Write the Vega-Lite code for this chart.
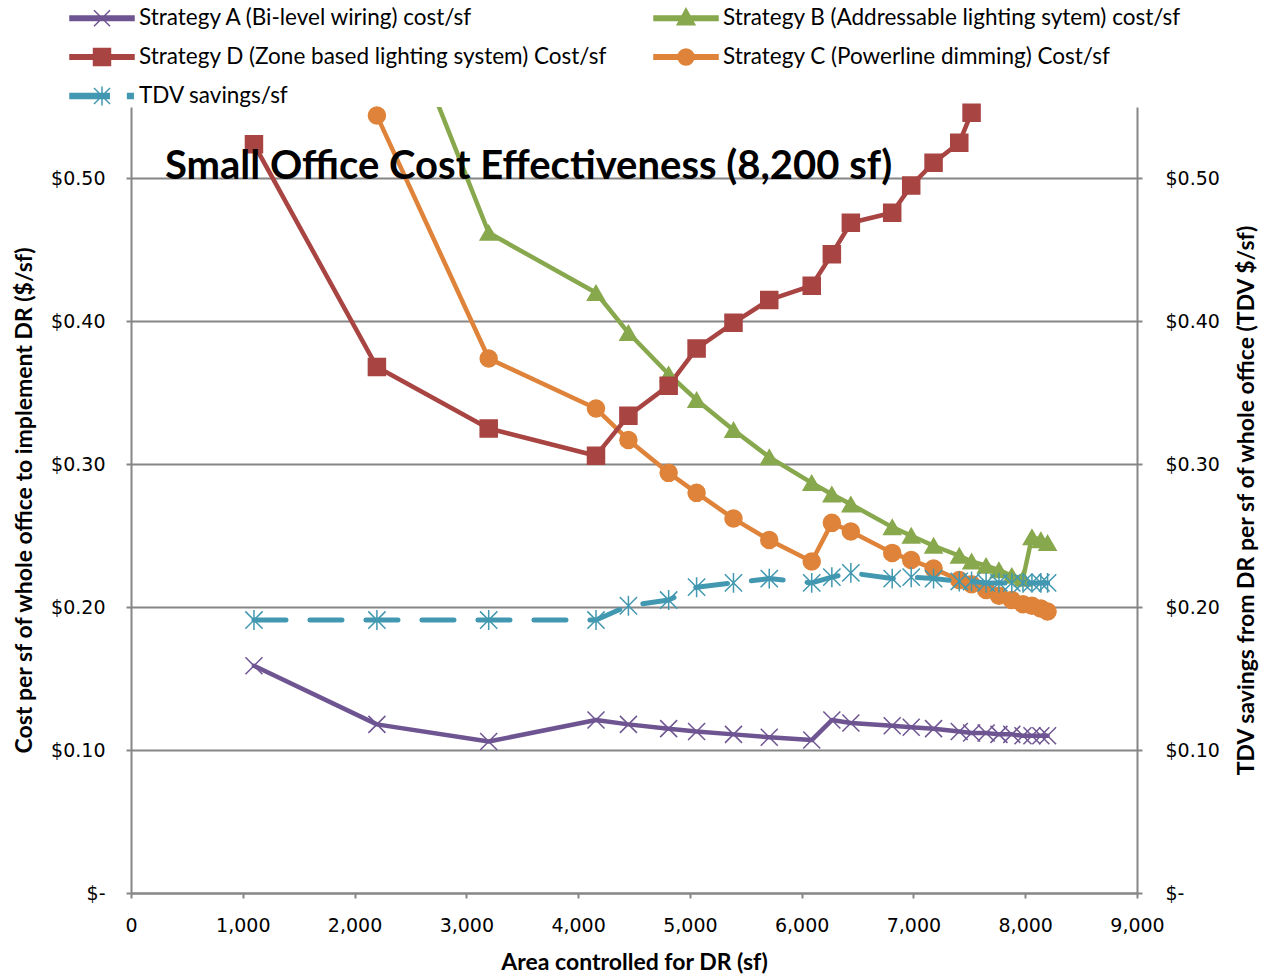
{
  "$schema": "https://vega.github.io/schema/vega-lite/v6.json",
  "width": 1006,
  "height": 786,
  "autosize": {"type": "none"},
  "padding": {"left": 131, "top": 107, "right": 130, "bottom": 83},
  "background": "white",
  "config": {"view": {"stroke": null}, "font": "Lato"},
  "title": {
    "text": "Small Office Cost Effectiveness (8,200 sf)",
    "anchor": "start",
    "frame": "group",
    "orient": "top",
    "offset": 0,
    "baseline": "alphabetic",
    "dx": 34,
    "dy": 218,
    "font": "Lato",
    "fontSize": 40,
    "fontWeight": "bold",
    "color": "#000000"
  },
  "datasets": {
    "cost": [
      {"series": "Strategy A (Bi-level wiring) cost/sf", "key": "A", "area": 1100, "value": 0.159},
      {"series": "Strategy A (Bi-level wiring) cost/sf", "key": "A", "area": 2200, "value": 0.118},
      {"series": "Strategy A (Bi-level wiring) cost/sf", "key": "A", "area": 3200, "value": 0.106},
      {"series": "Strategy A (Bi-level wiring) cost/sf", "key": "A", "area": 4160, "value": 0.121},
      {"series": "Strategy A (Bi-level wiring) cost/sf", "key": "A", "area": 4450, "value": 0.118},
      {"series": "Strategy A (Bi-level wiring) cost/sf", "key": "A", "area": 4810, "value": 0.115},
      {"series": "Strategy A (Bi-level wiring) cost/sf", "key": "A", "area": 5060, "value": 0.113},
      {"series": "Strategy A (Bi-level wiring) cost/sf", "key": "A", "area": 5390, "value": 0.111},
      {"series": "Strategy A (Bi-level wiring) cost/sf", "key": "A", "area": 5710, "value": 0.109},
      {"series": "Strategy A (Bi-level wiring) cost/sf", "key": "A", "area": 6090, "value": 0.107},
      {"series": "Strategy A (Bi-level wiring) cost/sf", "key": "A", "area": 6270, "value": 0.121},
      {"series": "Strategy A (Bi-level wiring) cost/sf", "key": "A", "area": 6440, "value": 0.119},
      {"series": "Strategy A (Bi-level wiring) cost/sf", "key": "A", "area": 6810, "value": 0.117},
      {"series": "Strategy A (Bi-level wiring) cost/sf", "key": "A", "area": 6980, "value": 0.116},
      {"series": "Strategy A (Bi-level wiring) cost/sf", "key": "A", "area": 7180, "value": 0.115},
      {"series": "Strategy A (Bi-level wiring) cost/sf", "key": "A", "area": 7410, "value": 0.113},
      {"series": "Strategy A (Bi-level wiring) cost/sf", "key": "A", "area": 7520, "value": 0.112},
      {"series": "Strategy A (Bi-level wiring) cost/sf", "key": "A", "area": 7650, "value": 0.112},
      {"series": "Strategy A (Bi-level wiring) cost/sf", "key": "A", "area": 7765, "value": 0.111},
      {"series": "Strategy A (Bi-level wiring) cost/sf", "key": "A", "area": 7880, "value": 0.111},
      {"series": "Strategy A (Bi-level wiring) cost/sf", "key": "A", "area": 7980, "value": 0.110},
      {"series": "Strategy A (Bi-level wiring) cost/sf", "key": "A", "area": 8060, "value": 0.110},
      {"series": "Strategy A (Bi-level wiring) cost/sf", "key": "A", "area": 8140, "value": 0.110},
      {"series": "Strategy A (Bi-level wiring) cost/sf", "key": "A", "area": 8200, "value": 0.110},
      {"series": "Strategy B (Addressable lighting sytem) cost/sf", "key": "B", "area": 2200, "value": 0.66},
      {"series": "Strategy B (Addressable lighting sytem) cost/sf", "key": "B", "area": 3200, "value": 0.462},
      {"series": "Strategy B (Addressable lighting sytem) cost/sf", "key": "B", "area": 4160, "value": 0.420},
      {"series": "Strategy B (Addressable lighting sytem) cost/sf", "key": "B", "area": 4450, "value": 0.392},
      {"series": "Strategy B (Addressable lighting sytem) cost/sf", "key": "B", "area": 4810, "value": 0.363},
      {"series": "Strategy B (Addressable lighting sytem) cost/sf", "key": "B", "area": 5060, "value": 0.345},
      {"series": "Strategy B (Addressable lighting sytem) cost/sf", "key": "B", "area": 5390, "value": 0.324},
      {"series": "Strategy B (Addressable lighting sytem) cost/sf", "key": "B", "area": 5710, "value": 0.305},
      {"series": "Strategy B (Addressable lighting sytem) cost/sf", "key": "B", "area": 6090, "value": 0.287},
      {"series": "Strategy B (Addressable lighting sytem) cost/sf", "key": "B", "area": 6270, "value": 0.279},
      {"series": "Strategy B (Addressable lighting sytem) cost/sf", "key": "B", "area": 6440, "value": 0.272},
      {"series": "Strategy B (Addressable lighting sytem) cost/sf", "key": "B", "area": 6810, "value": 0.256},
      {"series": "Strategy B (Addressable lighting sytem) cost/sf", "key": "B", "area": 6980, "value": 0.250},
      {"series": "Strategy B (Addressable lighting sytem) cost/sf", "key": "B", "area": 7180, "value": 0.243},
      {"series": "Strategy B (Addressable lighting sytem) cost/sf", "key": "B", "area": 7410, "value": 0.236},
      {"series": "Strategy B (Addressable lighting sytem) cost/sf", "key": "B", "area": 7520, "value": 0.232},
      {"series": "Strategy B (Addressable lighting sytem) cost/sf", "key": "B", "area": 7650, "value": 0.229},
      {"series": "Strategy B (Addressable lighting sytem) cost/sf", "key": "B", "area": 7765, "value": 0.226},
      {"series": "Strategy B (Addressable lighting sytem) cost/sf", "key": "B", "area": 7880, "value": 0.222},
      {"series": "Strategy B (Addressable lighting sytem) cost/sf", "key": "B", "area": 7980, "value": 0.220},
      {"series": "Strategy B (Addressable lighting sytem) cost/sf", "key": "B", "area": 8060, "value": 0.249},
      {"series": "Strategy B (Addressable lighting sytem) cost/sf", "key": "B", "area": 8140, "value": 0.247},
      {"series": "Strategy B (Addressable lighting sytem) cost/sf", "key": "B", "area": 8200, "value": 0.245},
      {"series": "Strategy C (Powerline dimming) Cost/sf", "key": "C", "area": 2200, "value": 0.544},
      {"series": "Strategy C (Powerline dimming) Cost/sf", "key": "C", "area": 3200, "value": 0.374},
      {"series": "Strategy C (Powerline dimming) Cost/sf", "key": "C", "area": 4160, "value": 0.339},
      {"series": "Strategy C (Powerline dimming) Cost/sf", "key": "C", "area": 4450, "value": 0.317},
      {"series": "Strategy C (Powerline dimming) Cost/sf", "key": "C", "area": 4810, "value": 0.294},
      {"series": "Strategy C (Powerline dimming) Cost/sf", "key": "C", "area": 5060, "value": 0.280},
      {"series": "Strategy C (Powerline dimming) Cost/sf", "key": "C", "area": 5390, "value": 0.262},
      {"series": "Strategy C (Powerline dimming) Cost/sf", "key": "C", "area": 5710, "value": 0.247},
      {"series": "Strategy C (Powerline dimming) Cost/sf", "key": "C", "area": 6090, "value": 0.232},
      {"series": "Strategy C (Powerline dimming) Cost/sf", "key": "C", "area": 6270, "value": 0.259},
      {"series": "Strategy C (Powerline dimming) Cost/sf", "key": "C", "area": 6440, "value": 0.253},
      {"series": "Strategy C (Powerline dimming) Cost/sf", "key": "C", "area": 6810, "value": 0.238},
      {"series": "Strategy C (Powerline dimming) Cost/sf", "key": "C", "area": 6980, "value": 0.233},
      {"series": "Strategy C (Powerline dimming) Cost/sf", "key": "C", "area": 7180, "value": 0.227},
      {"series": "Strategy C (Powerline dimming) Cost/sf", "key": "C", "area": 7410, "value": 0.219},
      {"series": "Strategy C (Powerline dimming) Cost/sf", "key": "C", "area": 7520, "value": 0.216},
      {"series": "Strategy C (Powerline dimming) Cost/sf", "key": "C", "area": 7650, "value": 0.212},
      {"series": "Strategy C (Powerline dimming) Cost/sf", "key": "C", "area": 7765, "value": 0.208},
      {"series": "Strategy C (Powerline dimming) Cost/sf", "key": "C", "area": 7880, "value": 0.205},
      {"series": "Strategy C (Powerline dimming) Cost/sf", "key": "C", "area": 7980, "value": 0.202},
      {"series": "Strategy C (Powerline dimming) Cost/sf", "key": "C", "area": 8060, "value": 0.201},
      {"series": "Strategy C (Powerline dimming) Cost/sf", "key": "C", "area": 8140, "value": 0.199},
      {"series": "Strategy C (Powerline dimming) Cost/sf", "key": "C", "area": 8200, "value": 0.197},
      {"series": "Strategy D (Zone based lighting system) Cost/sf", "key": "D", "area": 1100, "value": 0.524},
      {"series": "Strategy D (Zone based lighting system) Cost/sf", "key": "D", "area": 2200, "value": 0.368},
      {"series": "Strategy D (Zone based lighting system) Cost/sf", "key": "D", "area": 3200, "value": 0.325},
      {"series": "Strategy D (Zone based lighting system) Cost/sf", "key": "D", "area": 4160, "value": 0.306},
      {"series": "Strategy D (Zone based lighting system) Cost/sf", "key": "D", "area": 4450, "value": 0.334},
      {"series": "Strategy D (Zone based lighting system) Cost/sf", "key": "D", "area": 4810, "value": 0.355},
      {"series": "Strategy D (Zone based lighting system) Cost/sf", "key": "D", "area": 5060, "value": 0.381},
      {"series": "Strategy D (Zone based lighting system) Cost/sf", "key": "D", "area": 5390, "value": 0.399},
      {"series": "Strategy D (Zone based lighting system) Cost/sf", "key": "D", "area": 5710, "value": 0.415},
      {"series": "Strategy D (Zone based lighting system) Cost/sf", "key": "D", "area": 6090, "value": 0.425},
      {"series": "Strategy D (Zone based lighting system) Cost/sf", "key": "D", "area": 6270, "value": 0.447},
      {"series": "Strategy D (Zone based lighting system) Cost/sf", "key": "D", "area": 6440, "value": 0.469},
      {"series": "Strategy D (Zone based lighting system) Cost/sf", "key": "D", "area": 6810, "value": 0.476},
      {"series": "Strategy D (Zone based lighting system) Cost/sf", "key": "D", "area": 6980, "value": 0.495},
      {"series": "Strategy D (Zone based lighting system) Cost/sf", "key": "D", "area": 7180, "value": 0.511},
      {"series": "Strategy D (Zone based lighting system) Cost/sf", "key": "D", "area": 7410, "value": 0.525},
      {"series": "Strategy D (Zone based lighting system) Cost/sf", "key": "D", "area": 7520, "value": 0.546}
    ],
    "tdv": [
      {"series": "TDV savings/sf", "key": "TDV", "area": 1100, "value": 0.191},
      {"series": "TDV savings/sf", "key": "TDV", "area": 2200, "value": 0.191},
      {"series": "TDV savings/sf", "key": "TDV", "area": 3200, "value": 0.191},
      {"series": "TDV savings/sf", "key": "TDV", "area": 4160, "value": 0.191},
      {"series": "TDV savings/sf", "key": "TDV", "area": 4450, "value": 0.201},
      {"series": "TDV savings/sf", "key": "TDV", "area": 4810, "value": 0.205},
      {"series": "TDV savings/sf", "key": "TDV", "area": 5060, "value": 0.214},
      {"series": "TDV savings/sf", "key": "TDV", "area": 5390, "value": 0.217},
      {"series": "TDV savings/sf", "key": "TDV", "area": 5710, "value": 0.220},
      {"series": "TDV savings/sf", "key": "TDV", "area": 6090, "value": 0.217},
      {"series": "TDV savings/sf", "key": "TDV", "area": 6270, "value": 0.221},
      {"series": "TDV savings/sf", "key": "TDV", "area": 6440, "value": 0.224},
      {"series": "TDV savings/sf", "key": "TDV", "area": 6810, "value": 0.220},
      {"series": "TDV savings/sf", "key": "TDV", "area": 6980, "value": 0.221},
      {"series": "TDV savings/sf", "key": "TDV", "area": 7180, "value": 0.220},
      {"series": "TDV savings/sf", "key": "TDV", "area": 7410, "value": 0.218},
      {"series": "TDV savings/sf", "key": "TDV", "area": 7520, "value": 0.218},
      {"series": "TDV savings/sf", "key": "TDV", "area": 7650, "value": 0.217},
      {"series": "TDV savings/sf", "key": "TDV", "area": 7765, "value": 0.217},
      {"series": "TDV savings/sf", "key": "TDV", "area": 7880, "value": 0.217},
      {"series": "TDV savings/sf", "key": "TDV", "area": 7980, "value": 0.217},
      {"series": "TDV savings/sf", "key": "TDV", "area": 8060, "value": 0.217},
      {"series": "TDV savings/sf", "key": "TDV", "area": 8140, "value": 0.217},
      {"series": "TDV savings/sf", "key": "TDV", "area": 8200, "value": 0.217}
    ]
  },
  "layer": [
    {
      "data": {"name": "cost"},
      "layer": [
        {
          "mark": {"type": "line", "strokeWidth": 4.5, "strokeJoin": "round", "strokeCap": "round", "clip": true},
          "encoding": {
            "x": {
              "field": "area", "type": "quantitative",
              "scale": {"domain": [0, 9000], "nice": false},
              "axis": {
                "values": [0, 1000, 2000, 3000, 4000, 5000, 6000, 7000, 8000, 9000],
                "format": ",.0f",
                "grid": false,
                "domainColor": "#868686", "domainWidth": 2,
                "tickColor": "#868686", "tickWidth": 2, "tickSize": 5,
                "labelFont": "DejaVu Sans", "labelFontSize": 19, "labelColor": "#000000",
                "labelPadding": 18, "labelFlush": false, "labelOverlap": false,
                "title": "Area controlled for DR (sf)",
                "titleFont": "Lato", "titleFontSize": 23, "titleFontWeight": "bold", "titleColor": "#000000",
                "titlePadding": 16
              }
            },
            "y": {
              "field": "value", "type": "quantitative",
              "scale": {"domain": [0, 0.55], "nice": false, "zero": true},
              "axis": {
                "orient": "left",
                "values": [0, 0.1, 0.2, 0.3, 0.4, 0.5],
                "labelExpr": "datum.value == 0 ? '$-\u00a0\u00a0' : '$' + format(datum.value, '.2f')",
                "grid": true, "gridColor": "#868686", "gridWidth": 2,
                "domainColor": "#868686", "domainWidth": 2,
                "tickColor": "#868686", "tickWidth": 2, "tickSize": 5,
                "labelFont": "DejaVu Sans", "labelFontSize": 19, "labelColor": "#000000",
                "labelPadding": 21, "labelFlush": false, "labelOverlap": false,
                "title": "Cost per sf of whole office to implement DR ($/sf)",
                "titleFont": "Lato", "titleFontSize": 23, "titleFontWeight": "bold", "titleColor": "#000000",
                "titlePadding": 14
              }
            },
            "color": {
              "field": "series", "type": "nominal",
              "scale": {
                "domain": ["Strategy A (Bi-level wiring) cost/sf", "Strategy B (Addressable lighting sytem) cost/sf", "Strategy D (Zone based lighting system) Cost/sf", "Strategy C (Powerline dimming) Cost/sf", "TDV savings/sf"],
                "range": ["#6E5592", "#88A84D", "#A84442", "#DE8339", "#4298B0"]
              },
              "legend": {
                "title": null,
                "orient": "none",
                "legendX": -46,
                "legendY": -106,
                "columns": 2,
                "direction": "horizontal",
                "gridAlign": "each",
                "columnPadding": 44,
                "rowPadding": 10,
                "padding": 0,
                "symbolSize": 1024,
                "labelFont": "Lato",
                "labelFontSize": 22.5,
                "labelColor": "#000000",
                "labelOffset": 20,
                "labelLimit": 0,
                "encode": {
                  "symbols": {
                    "update": {
                      "shape": {"signal": "indexof(datum.value,'Strategy A')==0 ? 'M-2,-0.14H2V0.14H-2ZM-0.5,-0.5L0.5,0.5M-0.5,0.5L0.5,-0.5' : indexof(datum.value,'Strategy B')==0 ? 'M-2,-0.14H2V0.14H-2ZM0,-0.6L0.55,0.4L-0.55,0.4Z' : indexof(datum.value,'Strategy C')==0 ? 'M-2,-0.14H2V0.14H-2ZM0.5,0A0.5,0.5,0,1,1,-0.5,0A0.5,0.5,0,1,1,0.5,0Z' : indexof(datum.value,'Strategy D')==0 ? 'M-2,-0.14H2V0.14H-2ZM-0.53,-0.53H0.53V0.53H-0.53Z' : 'M-2,-0.15H0.45V0.15H-2ZM1.6,-0.15H1.95V0.15H1.6ZM-0.5,-0.5L0.5,0.5M-0.5,0.5L0.5,-0.5M0,-0.6V0.6'"},
                      "fill": {"scale": "color", "field": "value"},
                      "stroke": {"scale": "color", "field": "value"},
                      "strokeWidth": {"value": 1.5},
                      "strokeDash": {"value": []},
                      "fillOpacity": {"value": 1},
                      "strokeOpacity": {"value": 1},
                      "opacity": {"value": 1}
                    }
                  }
                }
              }
            }
          }
        },
        {
          "transform": [{"filter": "datum.value <= 0.55"}],
          "mark": {"type": "point", "filled": true, "strokeWidth": 1.5, "opacity": 1, "size": 289},
          "encoding": {
            "x": {"field": "area", "type": "quantitative"},
            "y": {"field": "value", "type": "quantitative"},
            "color": {"field": "series", "type": "nominal"},
            "stroke": {
              "field": "key", "type": "nominal", "legend": null,
              "scale": {
                "domain": ["A", "B", "D", "C", "TDV"],
                "range": ["#6E5592", "#88A84D", "#A84442", "#DE8339", "#4298B0"]
              }
            },
            "shape": {
              "field": "key", "type": "nominal", "legend": null,
              "scale": {
                "domain": ["A", "B", "D", "C", "TDV"],
                "range": ["M-1,-1L1,1M-1,1L1,-1", "triangle-up", "square", "circle", "M-1,-1L1,1M-1,1L1,-1M0,-1.15V1.15"]
              }
            }
          }
        }
      ]
    },
    {
      "data": {"name": "tdv"},
      "layer": [
        {
          "mark": {"type": "line", "strokeWidth": 5, "strokeDash": [32, 24], "strokeCap": "round", "strokeJoin": "round", "clip": true},
          "encoding": {
            "x": {"field": "area", "type": "quantitative"},
            "y": {
              "field": "value", "type": "quantitative",
              "scale": {"domain": [0, 0.55], "nice": false, "zero": true},
              "axis": {
                "orient": "right",
                "values": [0, 0.1, 0.2, 0.3, 0.4, 0.5],
                "labelExpr": "datum.value == 0 ? '$-' : '$' + format(datum.value, '.2f')",
                "grid": false,
                "domainColor": "#868686", "domainWidth": 2,
                "tickColor": "#868686", "tickWidth": 2, "tickSize": 5,
                "labelFont": "DejaVu Sans", "labelFontSize": 19, "labelColor": "#000000",
                "labelPadding": 23, "labelFlush": false, "labelOverlap": false,
                "title": "TDV savings from DR per sf of whole office (TDV $/sf)",
                "titleFont": "Lato", "titleFontSize": 23, "titleFontWeight": "bold", "titleColor": "#000000",
                "titleAngle": 270,
                "titleBaseline": "top",
                "titlePadding": 16
              }
            },
            "color": {"field": "series", "type": "nominal"}
          }
        },
        {
          "mark": {"type": "point", "filled": true, "strokeWidth": 1.5, "opacity": 1, "size": 300},
          "encoding": {
            "x": {"field": "area", "type": "quantitative"},
            "y": {"field": "value", "type": "quantitative"},
            "color": {"field": "series", "type": "nominal"},
            "stroke": {"field": "key", "type": "nominal", "legend": null},
            "shape": {"field": "key", "type": "nominal", "legend": null}
          }
        }
      ]
    }
  ],
  "resolve": {"scale": {"y": "independent"}}
}
